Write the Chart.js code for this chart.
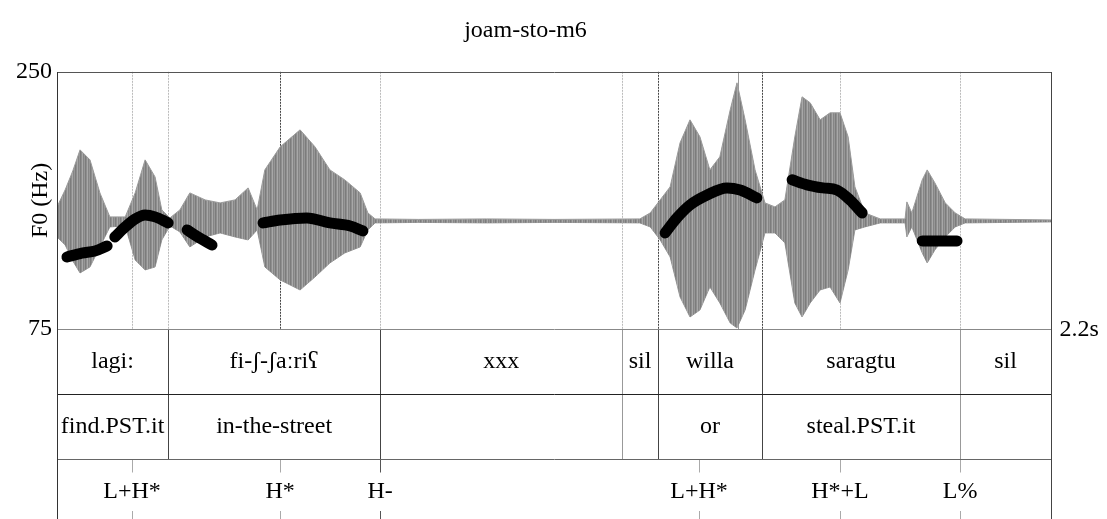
<!DOCTYPE html>
<html>
<head>
<meta charset="utf-8">
<script src="https://cdn.jsdelivr.net/npm/chart.js@4.4.1/dist/chart.umd.min.js"></script>
<style>
  body { margin: 0; background: #fff; }
  canvas { display: block; }
</style>
</head>
<body>
<canvas id="myChart" width="1107" height="519"></canvas>
<script>
  // time axis (s)
  const timeMax = 2.2;

  // waveform envelope (relative amplitude)
  const envTime = [0, 0.018, 0.035, 0.051, 0.073, 0.095, 0.117, 0.151, 0.173, 0.195, 0.217, 0.232, 0.250, 0.272, 0.294, 0.328, 0.361, 0.394, 0.423, 0.443, 0.460, 0.494, 0.538, 0.571, 0.604, 0.637, 0.671, 0.688, 0.704, 0.80, 0.95, 1.10, 1.29, 1.313, 1.335, 1.357, 1.379, 1.401, 1.423, 1.445, 1.467, 1.490, 1.505, 1.523, 1.545, 1.567, 1.589, 1.611, 1.633, 1.649, 1.667, 1.689, 1.711, 1.733, 1.751, 1.766, 1.788, 1.822, 1.877, 1.881, 1.892, 1.915, 1.926, 1.943, 1.966, 1.988, 2.010, 2.2];
  const envTop = [0.14, 0.31, 0.50, 0.71, 0.61, 0.28, 0.04, 0.04, 0.28, 0.61, 0.44, 0.11, 0.03, 0.11, 0.28, 0.21, 0.18, 0.21, 0.33, 0.11, 0.51, 0.74, 0.91, 0.74, 0.51, 0.41, 0.28, 0.08, 0.02, 0.015, 0.02, 0.015, 0.02, 0.08, 0.21, 0.34, 0.78, 1.01, 0.84, 0.51, 0.64, 1.11, 1.38, 1.01, 0.51, 0.18, 0.14, 0.21, 0.84, 1.24, 1.18, 1.01, 1.08, 1.08, 0.84, 0.34, 0.08, 0.02, 0.02, 0.19, 0.08, 0.41, 0.51, 0.38, 0.18, 0.08, 0.02, 0.01];
  const envBottom = [-0.16, -0.24, -0.40, -0.52, -0.46, -0.26, -0.06, -0.05, -0.39, -0.49, -0.46, -0.19, -0.05, -0.11, -0.26, -0.16, -0.12, -0.16, -0.19, -0.09, -0.46, -0.59, -0.69, -0.56, -0.42, -0.32, -0.26, -0.09, -0.02, -0.015, -0.02, -0.015, -0.02, -0.06, -0.19, -0.36, -0.76, -0.96, -0.89, -0.66, -0.82, -1.02, -1.07, -0.89, -0.49, -0.12, -0.12, -0.22, -0.82, -0.96, -0.82, -0.69, -0.66, -0.82, -0.49, -0.09, -0.06, -0.02, -0.02, -0.16, -0.06, -0.32, -0.42, -0.29, -0.16, -0.06, -0.02, -0.01];

  // F0 track (Hz), null = unvoiced
  const pitchTime = [0.022, 0.055, 0.084, 0.111, 0.120, 0.128, 0.151, 0.173, 0.195, 0.217, 0.246, 0.267, 0.288, 0.312, 0.343, 0.40, 0.456, 0.494, 0.553, 0.604, 0.649, 0.677, 1.0, 1.346, 1.372, 1.401, 1.439, 1.483, 1.512, 1.549, 1.59, 1.627, 1.660, 1.695, 1.726, 1.755, 1.782, 1.85, 1.915, 1.992];
  const pitchHz = [124.0, 126.7, 128.1, 131.5, null, 137.6, 144.5, 149.9, 152.6, 151.3, 147.2, null, 142.4, 137.6, 132.2, null, 147.2, 149.2, 150.6, 147.2, 145.1, 141.7, null, 140.4, 150.6, 159.4, 166.2, 171.0, 169.6, 164.2, null, 176.5, 173.1, 171.0, 169.6, 162.8, 154.0, null, 134.9, 134.9];
  const pitchTicks = [75, 250];

  // textgrid
  const tierBounds = [0, 0.246, 0.715, 1.251, 1.330, 1.560, 1.999, 2.2];
  const wordLabels = ['lagi:', 'fi-ʃ-ʃaːriʕ', 'xxx', 'sil', 'willa', 'saragtu', 'sil'];
  const glossLabels = ['find.PST.it', 'in-the-street', '', '', 'or', 'steal.PST.it', ''];
  const toneTimes = [0.166, 0.494, 0.715, 1.421, 1.733, 1.999];
  const toneLabels = ['L+H*', 'H*', 'H-', 'L+H*', 'H*+L', 'L%'];
  const guideTimes = [0.166, 0.246, 0.494, 0.715, 1.251, 1.330, 1.507, 1.560, 1.733, 1.999];

  // styles
  const faintBounds = [1.251, 1.999];
  const darkGuides = [0.494, 1.330, 1.560];
  const FONT = "'Liberation Serif', 'Times New Roman', serif";
  const tierH = 65;

  // striped fill so the envelope reads like a dense waveform
  function wavePattern() {
    const c = document.createElement('canvas');
    c.width = 5; c.height = 4;
    const g = c.getContext('2d');
    ['#7c7c7c', '#8e8e8e', '#a8a8a8', '#858585', '#979797'].forEach((col, i) => {
      g.fillStyle = col;
      g.fillRect(i, 0, 1, 4);
    });
    return g.createPattern(c, 'repeat');
  }

  const tiers = {
    id: 'tiers',
    beforeDatasetsDraw(chart) {
      const { ctx, chartArea: a, scales: { x } } = chart;
      ctx.save();
      ctx.lineWidth = 1;
      guideTimes.forEach(t => {
        const px = Math.round(x.getPixelForValue(t)) + 0.5;
        if (darkGuides.includes(t)) {
          ctx.strokeStyle = '#444';
          ctx.setLineDash([2, 1]);
        } else if (t === 1.507) {
          ctx.strokeStyle = '#999';
          ctx.setLineDash([]);
        } else {
          ctx.strokeStyle = '#bbb';
          ctx.setLineDash([2, 1]);
        }
        ctx.beginPath();
        ctx.moveTo(px, a.top);
        ctx.lineTo(px, a.bottom);
        ctx.stroke();
      });
      ctx.restore();
    },
    afterDraw(chart) {
      const { ctx, chartArea: a, scales: { x } } = chart;
      const H = chart.height;
      const y0 = Math.round(a.bottom) + 0.5;
      const y1 = y0 + tierH, y2 = y1 + tierH;
      const L = Math.round(a.left) + 0.5, R = Math.round(a.right) + 0.5;
      ctx.save();
      ctx.lineWidth = 1;
      ctx.setLineDash([]);

      function line(xa, ya, xb, yb, col) {
        ctx.strokeStyle = col;
        ctx.beginPath();
        ctx.moveTo(xa, ya);
        ctx.lineTo(xb, yb);
        ctx.stroke();
      }

      // interval boundaries, tiers 1 and 2
      tierBounds.slice(1, -1).forEach(t => {
        const px = Math.round(x.getPixelForValue(t)) + 0.5;
        const col = faintBounds.includes(t) ? '#999' : '#444';
        line(px, y0, px, y2, col);
      });

      // point tier ticks
      toneTimes.forEach(t => {
        const px = Math.round(x.getPixelForValue(t)) + 0.5;
        const col = t === 0.715 ? '#555' : '#aaa';
        line(px, y2, px, y2 + 13, col);
        line(px, H - 8, px, H, col);
      });

      // frame
      line(L, Math.round(a.top) + 0.5, R, Math.round(a.top) + 0.5, '#555');
      line(L, y0, R, y0, '#888');
      line(L, y1, R, y1, '#222');
      line(L, y2, R, y2, '#666');
      line(L, Math.round(a.top), L, H, '#333');
      line(R, Math.round(a.top), R, H, '#444');

      // labels
      ctx.fillStyle = '#000';
      ctx.font = '24px ' + FONT;
      ctx.textAlign = 'center';
      ctx.textBaseline = 'middle';
      for (let i = 0; i < wordLabels.length; i++) {
        const xm = (x.getPixelForValue(tierBounds[i]) + x.getPixelForValue(tierBounds[i + 1])) / 2;
        ctx.fillText(wordLabels[i], xm, y0 + tierH / 2);
        if (glossLabels[i]) ctx.fillText(glossLabels[i], xm, y1 + tierH / 2);
      }
      toneLabels.forEach((s, i) => {
        ctx.fillText(s, x.getPixelForValue(toneTimes[i]), y2 + 32);
      });

      ctx.textAlign = 'left';
      ctx.fillText(timeMax + 's', R + 8, a.bottom + 1);
      ctx.restore();
    }
  };

  const ctx = document.getElementById('myChart');

  new Chart(ctx, {
    type: 'line',
    data: {
      datasets: [
        {
          label: 'wave top',
          data: envTime.map((t, i) => ({ x: t, y: envTop[i] })),
          yAxisID: 'amp',
          borderColor: '#9a9a9a',
          borderWidth: 1,
          backgroundColor: wavePattern(),
          pointRadius: 0,
          fill: '+1',
          tension: 0,
          order: 2
        },
        {
          label: 'wave bottom',
          data: envTime.map((t, i) => ({ x: t, y: envBottom[i] })),
          yAxisID: 'amp',
          borderColor: '#9a9a9a',
          borderWidth: 1,
          pointRadius: 0,
          fill: false,
          tension: 0,
          order: 2
        },
        {
          label: 'F0',
          data: pitchTime.map((t, i) => ({ x: t, y: pitchHz[i] })),
          yAxisID: 'y',
          borderColor: '#000',
          borderWidth: 11,
          borderCapStyle: 'round',
          borderJoinStyle: 'round',
          pointRadius: 0,
          spanGaps: false,
          cubicInterpolationMode: 'monotone',
          fill: false,
          order: 1
        }
      ]
    },
    options: {
      responsive: false,
      animation: false,
      devicePixelRatio: 1,
      layout: { padding: { left: 0, right: 56, top: 0, bottom: 190 } },
      plugins: {
        legend: { display: false },
        tooltip: { enabled: false },
        title: {
          display: true,
          text: 'joam-sto-m6',
          color: '#000',
          font: { family: FONT, size: 24, weight: 'normal' },
          padding: { top: 16, bottom: 27 }
        }
      },
      scales: {
        x: {
          type: 'linear',
          min: 0,
          max: timeMax,
          display: false
        },
        y: {
          min: pitchTicks[0],
          max: pitchTicks[1],
          position: 'left',
          afterFit(scale) { scale.width = 57; },
          afterBuildTicks(scale) { scale.ticks = pitchTicks.map(v => ({ value: v })); },
          grid: { display: false, drawTicks: false },
          border: { display: false },
          ticks: {
            color: '#000',
            padding: 5,
            font: { family: FONT, size: 24 }
          },
          title: {
            display: true,
            text: 'F0 (Hz)',
            color: '#000',
            font: { family: FONT, size: 24 },
            padding: { top: 26, bottom: 0 }
          }
        },
        amp: {
          min: -1.08,
          max: 1.49,
          display: false
        }
      }
    },
    plugins: [tiers]
  });
</script>
</body>
</html>
